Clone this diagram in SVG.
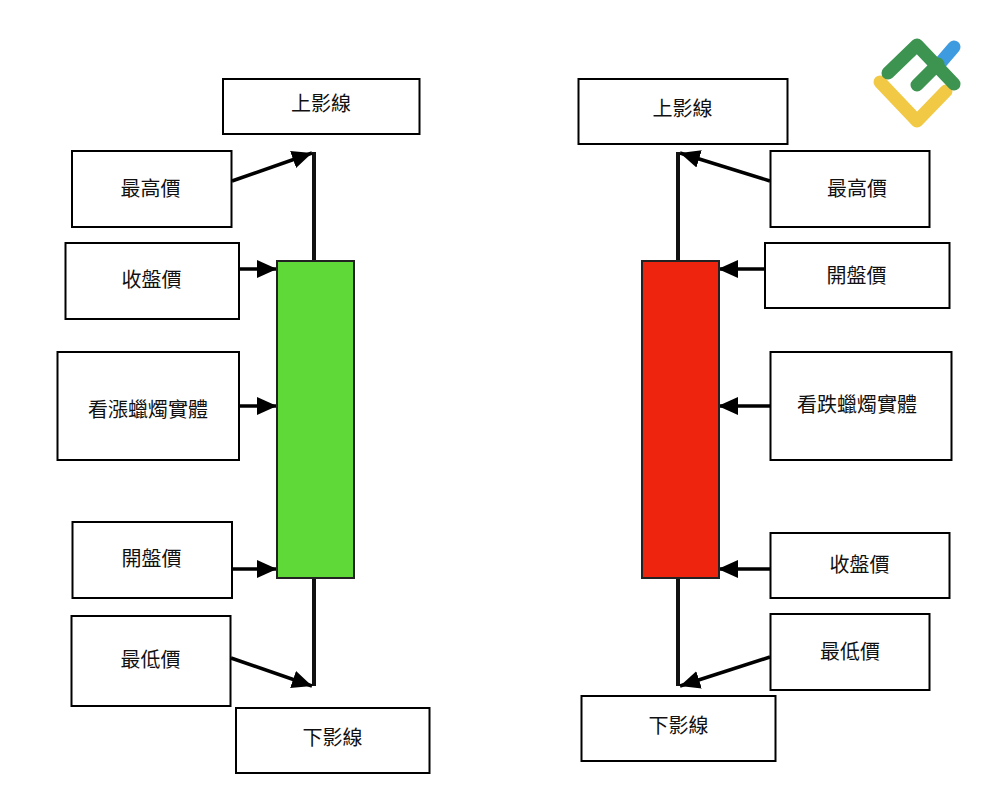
<svg xmlns="http://www.w3.org/2000/svg" width="1000" height="803" viewBox="0 0 1000 803">
<style>
.box{fill:#fff;stroke:#000;stroke-width:2}
.lbl{font-family:"Noto Sans CJK TC","Noto Sans CJK SC",sans-serif;font-size:20px;fill:#111;text-anchor:middle;dominant-baseline:central}
.wick{stroke:#111;stroke-width:4;fill:none}
.arr{stroke:#000;stroke-width:3.5;fill:none;marker-end:url(#ah)}
.body{stroke:#222;stroke-width:2}
.logo{fill:none;stroke-linecap:round;stroke-linejoin:round;stroke-width:13}
</style>
<defs>
<marker id="ah" markerUnits="userSpaceOnUse" markerWidth="24" markerHeight="22" refX="20" refY="11" orient="auto">
<path d="M0 2 L20 11 L0 20 Z" fill="#000"/>
</marker>
</defs>
<rect width="1000" height="803" fill="#fff"/>
<g id="logo">
<path class="logo" stroke="#3f9be0" d="M936 68 L954 47"/>
<path class="logo" stroke="#f1c944" d="M880 82 L917 121 L946 91"/>
<path class="logo" stroke="#3c9450" d="M888 73 L917 45 L954 84"/>
<path class="logo" stroke="#3c9450" d="M917 85 L938 64"/>
</g>
<g id="connectors">
<path class="wick" d="M314 152V261M314 578V686M678 152V261M678 578V686"/>
<path class="arr" d="M232 181L312 153"/>
<path class="arr" d="M239 269L277 269"/>
<path class="arr" d="M239 406L277 406"/>
<path class="arr" d="M232 569L277 569"/>
<path class="arr" d="M231 658L312 686"/>
<path class="arr" d="M770 181L680 153"/>
<path class="arr" d="M765 269L718 269"/>
<path class="arr" d="M770 406L718 406"/>
<path class="arr" d="M770 569L718 569"/>
<path class="arr" d="M770 657L680 686"/>
</g>
<g id="green-body"><rect class="body" x="277" y="261" width="77" height="317" fill="#5fd938"/></g>
<g id="red-body"><rect class="body" x="642" y="261" width="77" height="317" fill="#ee240e"/></g>
<g id="l-upper"><rect class="box" x="223" y="79" width="196.500" height="55"/><text class="lbl" x="321" y="102">上影線</text></g>
<g id="l-high"><rect class="box" x="72" y="151" width="159.500" height="76"/><text class="lbl" x="150.500" y="187">最高價</text></g>
<g id="l-close"><rect class="box" x="65.500" y="243" width="173.500" height="76"/><text class="lbl" x="151.500" y="278">收盤價</text></g>
<g id="l-body"><rect class="box" x="57.500" y="352" width="181.500" height="108"/><text class="lbl" x="148" y="408">看漲蠟燭實體</text></g>
<g id="l-open"><rect class="box" x="72.500" y="522" width="159.500" height="76"/><text class="lbl" x="151.500" y="557">開盤價</text></g>
<g id="l-low"><rect class="box" x="71.500" y="616" width="159" height="90"/><text class="lbl" x="150.500" y="658">最低價</text></g>
<g id="l-lower"><rect class="box" x="236" y="708" width="193.500" height="65"/><text class="lbl" x="332.500" y="736">下影線</text></g>
<g id="r-upper"><rect class="box" x="578.500" y="79" width="209" height="65"/><text class="lbl" x="682.500" y="107">上影線</text></g>
<g id="r-high"><rect class="box" x="770.500" y="151" width="159" height="76"/><text class="lbl" x="857" y="187">最高價</text></g>
<g id="r-open"><rect class="box" x="765" y="243" width="184.500" height="65"/><text class="lbl" x="856.500" y="274">開盤價</text></g>
<g id="r-body"><rect class="box" x="770.500" y="352" width="181" height="108"/><text class="lbl" x="857" y="403">看跌蠟燭實體</text></g>
<g id="r-close"><rect class="box" x="770.500" y="533" width="179" height="65"/><text class="lbl" x="859.500" y="563">收盤價</text></g>
<g id="r-low"><rect class="box" x="770.500" y="614" width="159" height="76"/><text class="lbl" x="850" y="650">最低價</text></g>
<g id="r-lower"><rect class="box" x="581.500" y="696" width="194" height="65"/><text class="lbl" x="678.500" y="724">下影線</text></g>
</svg>
